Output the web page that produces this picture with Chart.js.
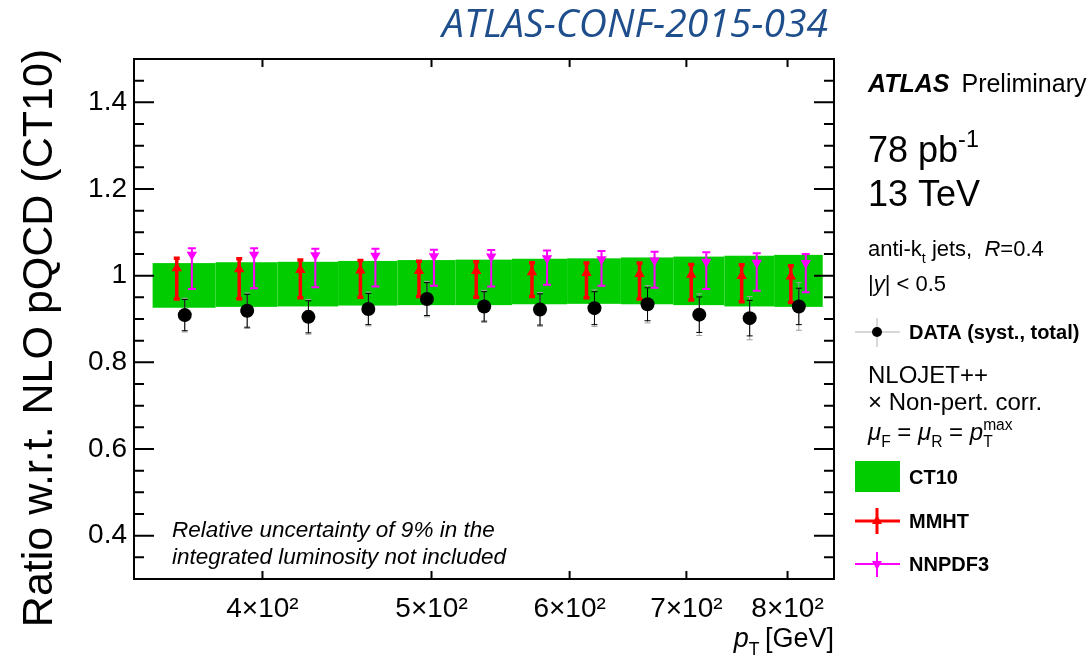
<!DOCTYPE html>
<html>
<head>
<meta charset="utf-8">
<script src="https://cdn.jsdelivr.net/npm/chart.js@4.4.1/dist/chart.umd.min.js"></script>
<style>
  html, body { margin: 0; padding: 0; background: #fff; }
  canvas { display: block; }
</style>
</head>
<body>
<canvas id="ratio-chart" width="1092" height="658"></canvas>
<script>
// jet pT bins [GeV] and positions of the points
const binEdges = [346, 376, 408, 442, 478, 516, 556, 598, 642, 688, 736, 786, 838];
const ptData  = [361, 392, 425, 460, 497, 536, 577, 620, 665, 712, 761, 812];
const ptMmht  = [357.2, 387.9, 420.5, 455.2, 491.8, 530.4, 570.9, 613.5, 658.0, 704.5, 753.0, 803.5];
const ptNnpdf = [364.4, 395.6, 428.9, 464.3, 501.6, 541.0, 582.4, 625.8, 671.2, 718.6, 768.1, 819.5];

// DATA / CT10
const dataRatio = [0.909, 0.919, 0.905, 0.923, 0.946, 0.929, 0.922, 0.925, 0.934, 0.910, 0.902, 0.929];
const dataTotal = [0.039, 0.041, 0.040, 0.039, 0.041, 0.037, 0.039, 0.042, 0.043, 0.048, 0.050, 0.055];
const dataSyst  = [0.036, 0.038, 0.037, 0.036, 0.038, 0.034, 0.036, 0.038, 0.038, 0.041, 0.041, 0.042];

// CT10 uncertainty band
const ct10Up   = [1.029, 1.031, 1.032, 1.034, 1.036, 1.037, 1.039, 1.040, 1.042, 1.044, 1.046, 1.048];
const ct10Down = [0.926, 0.928, 0.929, 0.931, 0.932, 0.932, 0.934, 0.935, 0.934, 0.932, 0.929, 0.928];

// MMHT / CT10
const mmhtRatio = [1.017, 1.015, 1.013, 1.012, 1.011, 1.011, 1.008, 1.006, 1.004, 1.002, 0.999, 0.998];
const mmhtHigh  = [1.040, 1.039, 1.036, 1.035, 1.033, 1.032, 1.030, 1.029, 1.029, 1.026, 1.025, 1.023];
const mmhtLow   = [0.946, 0.947, 0.949, 0.950, 0.952, 0.950, 0.952, 0.949, 0.946, 0.944, 0.940, 0.938];

// NNPDF3 / CT10
const nnpdfRatio = [1.048, 1.048, 1.047, 1.046, 1.045, 1.044, 1.040, 1.038, 1.035, 1.032, 1.030, 1.029];
const nnpdfHigh  = [1.063, 1.063, 1.062, 1.062, 1.060, 1.059, 1.058, 1.057, 1.055, 1.054, 1.052, 1.050];
const nnpdfLow   = [0.969, 0.971, 0.973, 0.975, 0.977, 0.975, 0.979, 0.977, 0.972, 0.969, 0.965, 0.962];

// axis ticks
const xTickValues = [400, 500, 600, 700, 800];
const xTickLabels = ['4×10²', '5×10²', '6×10²', '7×10²', '8×10²'];
const yTickValues = [0.4, 0.6, 0.8, 1, 1.2, 1.4];
const yTickLabels = ['0.4', '0.6', '0.8', '1', '1.2', '1.4'];

const FONT = '"Liberation Sans", Arial, Helvetica, sans-serif';
const GREEN = '#00cc00';
const RED = '#ff0000';
const MAGENTA = '#ff00ff';

function runFont(size, r) {
  return (r.it ? 'italic ' : '') + (r.bold ? 'bold ' : '') + size + 'px ' + FONT;
}

// draw a line of mixed text (italic, sub/superscripts)
function drawRuns(ctx, x, y, size, runs, alignRight) {
  const items = runs.map(r => {
    const s = (r.sub || r.sup) ? size * 0.65 : size;
    ctx.font = runFont(s, r);
    return { r: r, s: s, w: ctx.measureText(r.t).width };
  });
  const total = items.reduce((a, it) => a + (it.r.keep ? 0 : it.w), 0);
  let cx = alignRight ? x - total : x;
  ctx.textAlign = 'left';
  ctx.textBaseline = 'alphabetic';
  items.forEach(it => {
    ctx.font = runFont(it.s, it.r);
    const dy = it.r.sub ? size * 0.3 : (it.r.sup ? -size * 0.42 : 0);
    ctx.fillText(it.r.t, cx, y + dy);
    if (!it.r.keep) cx += it.w;
  });
}

function drawBar(ctx, x, y0, y1, cap) {
  ctx.beginPath();
  ctx.moveTo(x, y0); ctx.lineTo(x, y1);
  ctx.moveTo(x - cap, y0); ctx.lineTo(x + cap, y0);
  ctx.moveTo(x - cap, y1); ctx.lineTo(x + cap, y1);
  ctx.stroke();
}

// band + error bars under the markers
const bandPlugin = {
  id: 'band',
  beforeDatasetsDraw(chart) {
    const ctx = chart.ctx, xs = chart.scales.x, ys = chart.scales.y;
    ctx.save();
    ctx.fillStyle = GREEN;
    for (let i = 0; i < ct10Up.length; i++) {
      const x0 = xs.getPixelForValue(binEdges[i]);
      const x1 = xs.getPixelForValue(binEdges[i + 1]);
      const y0 = ys.getPixelForValue(ct10Up[i]);
      const y1 = ys.getPixelForValue(ct10Down[i]);
      ctx.fillRect(x0, y0, x1 - x0, y1 - y0);
    }
    // data: total (grey) and syst (black)
    for (let i = 0; i < dataRatio.length; i++) {
      const px = xs.getPixelForValue(ptData[i]);
      ctx.strokeStyle = '#a0a0a0'; ctx.lineWidth = 1;
      drawBar(ctx, px, ys.getPixelForValue(dataRatio[i] + dataTotal[i]), ys.getPixelForValue(dataRatio[i] - dataTotal[i]), 3);
      ctx.strokeStyle = '#000'; ctx.lineWidth = 1;
      drawBar(ctx, px, ys.getPixelForValue(dataRatio[i] + dataSyst[i]), ys.getPixelForValue(dataRatio[i] - dataSyst[i]), 3);
    }
    ctx.strokeStyle = RED; ctx.lineWidth = 3.5;
    for (let i = 0; i < mmhtRatio.length; i++) {
      drawBar(ctx, xs.getPixelForValue(ptMmht[i]), ys.getPixelForValue(mmhtHigh[i]), ys.getPixelForValue(mmhtLow[i]), 3);
    }
    ctx.strokeStyle = MAGENTA; ctx.lineWidth = 2;
    for (let i = 0; i < nnpdfRatio.length; i++) {
      drawBar(ctx, xs.getPixelForValue(ptNnpdf[i]), ys.getPixelForValue(nnpdfHigh[i]), ys.getPixelForValue(nnpdfLow[i]), 4);
    }
    ctx.restore();
  }
};

// frame, ROOT style inner ticks, titles and the side legend
const decorPlugin = {
  id: 'decor',
  afterDraw(chart) {
    const ctx = chart.ctx, xs = chart.scales.x, ys = chart.scales.y;
    const a = chart.chartArea;
    ctx.save();
    ctx.strokeStyle = '#000';
    ctx.lineWidth = 2;
    ctx.strokeRect(a.left, a.top, a.right - a.left, a.bottom - a.top);

    ctx.beginPath();
    ys.ticks.forEach(t => {
      const py = ys.getPixelForValue(t.value);
      if (py <= a.top + 1 || py >= a.bottom - 1) return;
      const len = t.label ? 20 : 10;
      ctx.moveTo(a.left, py); ctx.lineTo(a.left + len, py);
      ctx.moveTo(a.right, py); ctx.lineTo(a.right - len, py);
    });
    xTickValues.forEach(v => {
      const px = xs.getPixelForValue(v);
      ctx.moveTo(px, a.bottom); ctx.lineTo(px, a.bottom - 8);
      ctx.moveTo(px, a.top); ctx.lineTo(px, a.top + 8);
    });
    ctx.stroke();

    ctx.fillStyle = '#000';
    // y title
    ctx.save();
    ctx.translate(52, 338);
    ctx.rotate(-Math.PI / 2);
    ctx.font = '43px ' + FONT;
    ctx.textAlign = 'center';
    ctx.textBaseline = 'alphabetic';
    ctx.fillText('Ratio w.r.t. NLO pQCD (CT10)', 0, 0);
    ctx.restore();

    // x title
    drawRuns(ctx, 834, 647, 27, [
      { t: 'p', it: true }, { t: 'T', sub: true }, { t: '\u2009[GeV]' }
    ], true);

    // note
    ctx.font = 'italic 22.5px ' + FONT;
    ctx.textAlign = 'left';
    ctx.fillText('Relative uncertainty of 9% in the', 172, 537);
    ctx.fillText('integrated luminosity not included', 172, 564);

    // header
    ctx.save();
    ctx.font = 'italic 38px "Open Sans", sans-serif';
    const tw = ctx.measureText('ATLAS-CONF-2015-034').width;
    ctx.translate(442, 37);
    ctx.scale(386 / tw, 1);
    ctx.fillStyle = '#1f4e8c';
    ctx.fillText('ATLAS-CONF-2015-034', 0, 0);
    ctx.restore();

    // side panel
    const lx = 868;
    ctx.font = 'bold italic 25px ' + FONT;
    ctx.fillText('ATLAS', lx, 92);
    const aw = ctx.measureText('ATLAS').width;
    ctx.font = '25px ' + FONT;
    ctx.fillText('Preliminary', lx + aw + 12, 92);

    drawRuns(ctx, lx, 162, 36, [{ t: '78 pb' }, { t: '-1', sup: true }]);
    drawRuns(ctx, lx, 206, 36, [{ t: '13 TeV' }]);
    drawRuns(ctx, lx, 256, 22, [
      { t: 'anti-k' }, { t: 't', sub: true }, { t: ' jets,  ' }, { t: 'R', it: true }, { t: '=0.4' }
    ]);
    drawRuns(ctx, lx, 291, 22, [{ t: '|' }, { t: 'y', it: true }, { t: '| < 0.5' }]);

    // DATA entry
    ctx.strokeStyle = '#b0b0b0'; ctx.lineWidth = 1;
    ctx.beginPath();
    ctx.moveTo(855, 332); ctx.lineTo(900, 332);
    ctx.moveTo(877, 318); ctx.lineTo(877, 347);
    ctx.stroke();
    ctx.beginPath(); ctx.arc(877, 332, 5, 0, Math.PI * 2); ctx.fill();
    ctx.font = 'bold 20px ' + FONT;
    ctx.textBaseline = 'middle';
    ctx.fillText('DATA (syst., total)', 909, 333);
    ctx.textBaseline = 'alphabetic';

    drawRuns(ctx, lx, 383, 24, [{ t: 'NLOJET++' }]);
    drawRuns(ctx, lx, 410, 24, [{ t: '× Non-pert. corr.' }]);
    drawRuns(ctx, lx, 440, 24, [
      { t: 'μ', it: true }, { t: 'F', sub: true }, { t: ' = ' },
      { t: 'μ', it: true }, { t: 'R', sub: true }, { t: ' = ' },
      { t: 'p', it: true }, { t: 'T', sub: true, keep: true }, { t: 'max', sup: true }
    ]);

    // CT10 entry
    ctx.fillStyle = GREEN;
    ctx.fillRect(855, 461, 45, 31);
    // MMHT entry
    ctx.strokeStyle = RED; ctx.lineWidth = 3;
    ctx.beginPath();
    ctx.moveTo(855, 521); ctx.lineTo(900, 521);
    ctx.moveTo(877, 508); ctx.lineTo(877, 534);
    ctx.stroke();
    ctx.fillStyle = RED;
    ctx.beginPath();
    ctx.moveTo(877, 515); ctx.lineTo(882, 524); ctx.lineTo(872, 524); ctx.closePath(); ctx.fill();
    // NNPDF3 entry
    ctx.strokeStyle = MAGENTA; ctx.lineWidth = 2;
    ctx.beginPath();
    ctx.moveTo(855, 564); ctx.lineTo(900, 564);
    ctx.moveTo(877, 552); ctx.lineTo(877, 577);
    ctx.stroke();
    ctx.fillStyle = MAGENTA;
    ctx.beginPath();
    ctx.moveTo(877, 570); ctx.lineTo(882, 561); ctx.lineTo(872, 561); ctx.closePath(); ctx.fill();

    ctx.fillStyle = '#000';
    ctx.font = 'bold 20px ' + FONT;
    ctx.textBaseline = 'middle';
    ctx.fillText('CT10', 909, 478);
    ctx.fillText('MMHT', 909, 522);
    ctx.fillText('NNPDF3', 909, 565);
    ctx.restore();
  }
};

document.addEventListener('DOMContentLoaded', function() {
  Chart.defaults.font.family = FONT;
  Chart.defaults.color = '#000';

  const toPoints = (xs, ys) => xs.map((x, i) => ({ x: x, y: ys[i] }));

  const config = {
    type: 'scatter',
    data: {
      datasets: [
        {
          label: 'DATA (syst., total)',
          data: toPoints(ptData, dataRatio),
          pointStyle: 'circle',
          pointRadius: 7,
          backgroundColor: '#000',
          borderWidth: 0
        },
        {
          label: 'MMHT',
          data: toPoints(ptMmht, mmhtRatio),
          pointStyle: 'triangle',
          pointRadius: 6,
          backgroundColor: RED,
          borderWidth: 0
        },
        {
          label: 'NNPDF3',
          data: toPoints(ptNnpdf, nnpdfRatio),
          pointStyle: 'triangle',
          rotation: 180,
          pointRadius: 6,
          backgroundColor: MAGENTA,
          borderWidth: 0
        }
      ]
    },
    options: {
      responsive: false,
      animation: false,
      devicePixelRatio: 1,
      layout: { padding: { left: 0, right: 258, top: 59, bottom: 0 } },
      plugins: { legend: { display: false }, tooltip: { enabled: false } },
      scales: {
        x: {
          type: 'logarithmic',
          min: 337.6,
          max: 850.6,
          grid: { display: false, drawTicks: false },
          border: { display: false },
          afterBuildTicks: (scale) => { scale.ticks = xTickValues.map(v => ({ value: v })); },
          afterFit: (scale) => { scale.height = 79; },
          ticks: {
            autoSkip: false,
            maxRotation: 0,
            padding: 13,
            font: { size: 28 },
            callback: (v) => {
              const i = xTickValues.indexOf(v);
              return i >= 0 ? xTickLabels[i] : '';
            }
          }
        },
        y: {
          min: 0.3,
          max: 1.5,
          grid: { display: false, drawTicks: false },
          border: { display: false },
          afterFit: (scale) => { scale.width = 134; },
          ticks: {
            stepSize: 0.05,
            autoSkip: false,
            padding: 7,
            font: { size: 28 },
            callback: (v) => {
              const i = yTickValues.findIndex(t => Math.abs(t - v) < 1e-6);
              return i >= 0 ? yTickLabels[i] : '';
            }
          }
        }
      }
    },
    plugins: [bandPlugin, decorPlugin]
  };

  const ctx = document.getElementById('ratio-chart').getContext('2d');
  new Chart(ctx, config);
});
</script>
</body>
</html>
